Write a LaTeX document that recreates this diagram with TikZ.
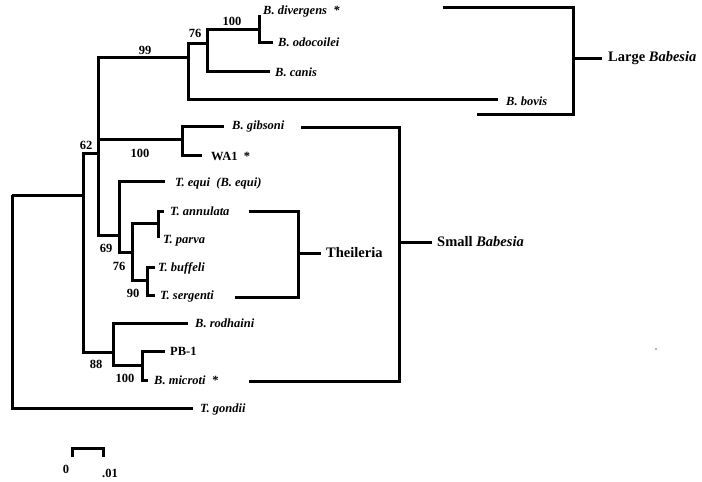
\documentclass[tikz,border=0pt]{standalone}
\usepackage{fontspec}
\setmainfont{Liberation Serif}
\usetikzlibrary{calc}
\begin{document}
\begin{tikzpicture}[x=1pt,y=-1pt,
  br/.style={line width=3pt, line join=miter},
  sp/.style={anchor=west, inner sep=0pt, font=\fontsize{12.5}{14}\selectfont\bfseries\itshape},
  up/.style={anchor=west, inner sep=0pt, font=\fontsize{12.5}{14}\selectfont\bfseries},
  bs/.style={inner sep=0pt, font=\fontsize{12.5}{14}\selectfont\bfseries},
  grp/.style={anchor=west, inner sep=0pt, font=\fontsize{14.5}{16}\selectfont\bfseries}]
\useasboundingbox (0,0) rectangle (702,482);

% internal nodes
\coordinate (R) at (12,195);
\coordinate (A) at (83,195);
\coordinate (N62) at (98,153);
\coordinate (N99) at (188,57);
\coordinate (N76) at (207,43);
\coordinate (N100a) at (259,29);
\coordinate (Ngib) at (182,139);
\coordinate (N69) at (119,235);
\coordinate (N76b) at (132,252);
\coordinate (Nann) at (158,223);
\coordinate (N90) at (147,280);
\coordinate (N88) at (113,352);
\coordinate (N100b) at (142,365);

% leaf ends
\coordinate (Ldiv) at (259,15);
\coordinate (Lodo) at (273,42);
\coordinate (Lcan) at (270,71);
\coordinate (Lbov) at (498,99);
\coordinate (Lgib) at (224,126);
\coordinate (Lwa) at (202,155);
\coordinate (Lequ) at (165,181);
\coordinate (Lann) at (164,211);
\coordinate (Lpar) at (158,238);
\coordinate (Lbuf) at (155,267);
\coordinate (Lser) at (155,295);
\coordinate (Lrod) at (188,323);
\coordinate (Lpb) at (165,351);
\coordinate (Lmic) at (148,380);
\coordinate (Lgon) at (193,408);

% tree edges
\draw[br] (R) -- (A);
\draw[br] (R) |- (Lgon);
\draw[br] (A) |- (N62);
\draw[br] (A) |- (N88);
\draw[br] (N62) |- (N99);
\draw[br] (N62) |- (Ngib);
\draw[br] (N62) |- (N69);
\draw[br] (N99) |- (N76);
\draw[br] (N99) |- (Lbov);
\draw[br] (N76) |- (N100a);
\draw[br] (N76) |- (Lcan);
\draw[br] (N100a) |- (Ldiv);
\draw[br] (N100a) |- (Lodo);
\draw[br] (Ngib) |- (Lgib);
\draw[br] (Ngib) |- (Lwa);
\draw[br] (N69) |- (Lequ);
\draw[br] (N69) |- (N76b);
\draw[br] (N76b) |- (Nann);
\draw[br] (N76b) |- (N90);
\draw[br] (Nann) |- (Lann);
\draw[br] (Nann) |- (Lpar);
\draw[br] (N90) |- (Lbuf);
\draw[br] (N90) |- (Lser);
\draw[br] (N88) |- (Lrod);
\draw[br] (N88) |- (N100b);
\draw[br] (N100b) |- (Lpb);
\draw[br] (N100b) |- (Lmic);

% species labels
\node[sp] (tdiv) at (263,11) {B. divergens\ \ *};
\node[sp] (todo) at (278,42) {B. odocoilei};
\node[sp] (tcan) at (275,72) {B. canis};
\node[sp] (tbov) at (506,101) {B. bovis};
\node[sp] (tgib) at (232,126) {B. gibsoni};
\node[up] (twa) at (211,156) {WA1\ \ *};
\node[sp] (tequ) at (175,183) {T. equi\ \ (B. equi)};
\node[sp] (tann) at (170,211) {T. annulata};
\node[sp] (tpar) at (163,241) {T. parva};
\node[sp] (tbuf) at (158,268) {T. buffeli};
\node[sp] (tser) at (160,296) {T. sergenti};
\node[sp] (trod) at (195,323) {B. rodhaini};
\node[up] (tpb) at (170,351) {PB-1};
\node[sp] (tmic) at (154,380) {B. microti\ \ *};
\node[sp] (tgon) at (200,409) {T. gondii};

% bootstrap values
\node[bs] (b1) at (232,21) {100};
\node[bs] (b2) at (195,33) {76};
\node[bs] (b3) at (145,50) {99};
\node[bs] (b4) at (86,145) {62};
\node[bs] (b5) at (140,153) {100};
\node[bs] (b6) at (106,248) {69};
\node[bs] (b7) at (119,266) {76};
\node[bs] (b8) at (133,293) {90};
\node[bs] (b9) at (96,364) {88};
\node[bs] (b10) at (125,378) {100};

% group brackets
\coordinate (LBa) at (443,7);
\coordinate (LBb) at (573,7);
\coordinate (LBc) at (573,114);
\coordinate (LBd) at (477,114);
\coordinate (LBm) at (573,58);
\draw[br] (LBa) -- (LBb) -- (LBc) -- (LBd);
\node[grp] (gLB) at (608,58) {Large \textit{Babesia}};
\draw[br] (LBm) -- (602,58);

\coordinate (SBa) at (301,127);
\coordinate (SBb) at (399,127);
\coordinate (SBc) at (399,381);
\coordinate (SBd) at (249,381);
\coordinate (SBm) at (399,242);
\draw[br] (SBa) -- (SBb) -- (SBc) -- (SBd);
\node[grp] (gSB) at (437,242) {Small \textit{Babesia}};
\draw[br] (SBm) -- (432,242);

\coordinate (THa) at (249,211);
\coordinate (THb) at (298,211);
\coordinate (THc) at (298,297);
\coordinate (THd) at (235,297);
\coordinate (THm) at (298,253);
\draw[br] (THa) -- (THb) -- (THc) -- (THd);
\node[grp] (gTH) at (326,253) {Theileria};
\draw[br] (THm) -- (321,253);

% scale bar
\coordinate (S0) at (72,448);
\coordinate (S1) at (103,448);
\draw[br] ($(S0)+(0,9)$) -- (S0) -- (S1) -- ($(S1)+(0,9)$);
\node[bs] (s0) at (66,469) {0};
\node[bs] (s1) at (110,473) {.01};

% speck
\fill[black!60] (656,349) circle (0.9);
\end{tikzpicture}
\end{document}
